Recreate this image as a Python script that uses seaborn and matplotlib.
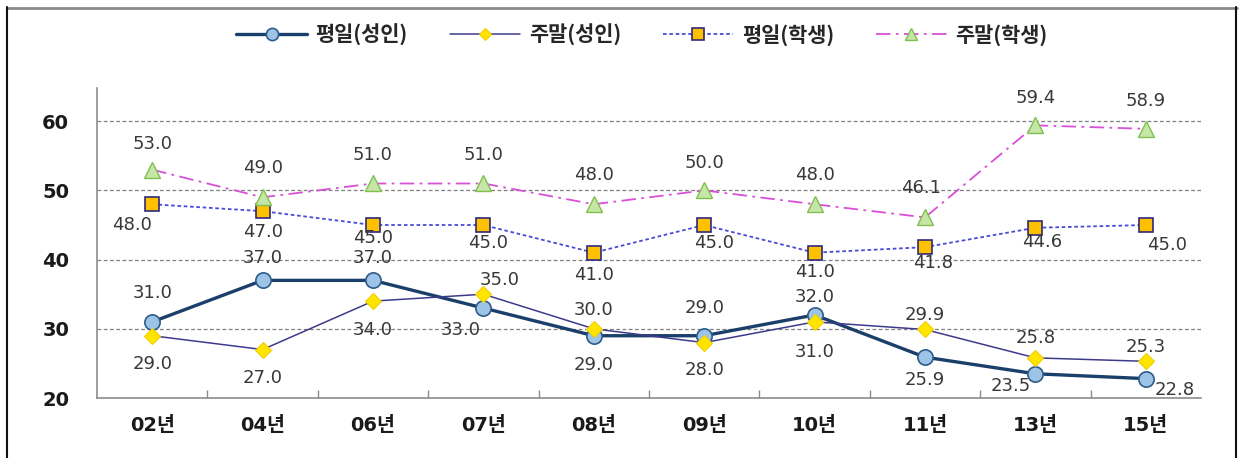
import matplotlib
matplotlib.use("Agg")
import matplotlib.pyplot as plt
import seaborn as sns
import pandas as pd
import numpy as np
from matplotlib.lines import Line2D

years = ["02년", "04년", "06년", "07년", "08년", "09년", "10년", "11년", "13년", "15년"]
weekday_adult = [31.0, 37.0, 37.0, 33.0, 29.0, 29.0, 32.0, 25.9, 23.5, 22.8]
weekend_adult = [29.0, 27.0, 34.0, 35.0, 30.0, 28.0, 31.0, 29.9, 25.8, 25.3]
weekday_student = [48.0, 47.0, 45.0, 45.0, 41.0, 45.0, 41.0, 41.8, 44.6, 45.0]
weekend_student = [53.0, 49.0, 51.0, 51.0, 48.0, 50.0, 48.0, 46.1, 59.4, 58.9]
series_names = ["평일(성인)", "주말(성인)", "평일(학생)", "주말(학생)"]

sns.set_theme(style="white")
plt.rcParams['font.family'] = ['Noto Sans CJK KR', 'DejaVu Sans']

fig = plt.figure(figsize=(12.39, 4.58), dpi=100)
ax = fig.add_axes([97/1239, 1-398/458, (1201-97)/1239, (398-88)/458])

df = pd.DataFrame({
    "year": years * 4,
    "value": weekday_adult + weekend_adult + weekday_student + weekend_student,
    "series": sum([[n] * len(years) for n in series_names], []),
})

styles = {
    "평일(성인)": dict(color="#1B3F6B", lw=2.4, ls="-", marker="o", ms=11, mfc="#9DC3E6", mec="#2E5C8A", mew=1.2),
    "주말(성인)": dict(color="#3D3A8C", lw=1.1, ls="-", marker="D", ms=8, mfc="#FFE400", mec="#F2CF00", mew=0.8),
    "평일(학생)": dict(color="#4A4AD8", lw=1.3, ls=(0, (2, 1.5)), marker="s", ms=10, mfc="#FFC000", mec="#2F2A7A", mew=1.2),
    "주말(학생)": dict(color="#D84FD8", lw=1.3, ls=(0, (8, 3, 1.5, 3)), marker="^", ms=11, mfc="#C6E6A8", mec="#7FBF4F", mew=1.0),
}

handles = []
for name in series_names:
    st = styles[name]
    sub = df[df["series"] == name]
    sns.lineplot(data=sub, x="year", y="value", ax=ax, color=st["color"], lw=st["lw"],
                 linestyle=st["ls"], marker=st["marker"], markersize=st["ms"],
                 markerfacecolor=st["mfc"], markeredgecolor=st["mec"], markeredgewidth=st["mew"],
                 sort=False, legend=False, zorder=3)
    handles.append(Line2D([], [], color=st["color"], lw=st["lw"], ls=st["ls"], marker=st["marker"],
                          ms=st["ms"] * 0.8, mfc=st["mfc"], mec=st["mec"], mew=st["mew"]))

# label offsets in pixels (dx, dy)
off_wa = [(0, 29), (0, 22), (0, 22), (-23, -22), (0, -29), (0, 28), (0, 18), (0, -23), (-25, -12), (29, -11)]
off_we = [(0, -28), (0, -28), (0, -29), (16, 14), (0, 19), (0, -27), (0, -30), (0, 14), (0, 20), (0, 14)]
off_sd = [(-20, -21), (0, -21), (0, -13), (5, -18), (0, -22), (10, -18), (0, -19), (8, -16), (7, -14), (21, -20)]
off_se = [(0, 26), (0, 29), (0, 28), (0, 28), (0, 29), (0, 27), (0, 29), (-4, 29), (0, 27), (0, 28)]

for vals, offs in [(weekday_adult, off_wa), (weekend_adult, off_we),
                   (weekday_student, off_sd), (weekend_student, off_se)]:
    for i, (v, (dx, dy)) in enumerate(zip(vals, offs)):
        ax.annotate(f"{v:.1f}", (i, v), xytext=(dx, dy), textcoords="offset pixels",
                    ha="center", va="center", fontsize=13, color="#383838",
                    family=['DejaVu Sans'], zorder=5)

ax.set_xlim(-0.5, len(years) - 0.5)
ax.set_ylim(20, 64.8)
ax.set_yticks([20, 30, 40, 50, 60])
ax.set_xticks(range(len(years)))
ax.set_xticklabels(years)
ax.set_xlabel("")
ax.set_ylabel("")
for y in [30, 40, 50, 60]:
    ax.axhline(y, color="#7F7F7F", lw=0.9, ls=(0, (3, 2)), zorder=1)

for s in ["top", "right"]:
    ax.spines[s].set_visible(False)
for s in ["left", "bottom"]:
    ax.spines[s].set_color("#8C8C8C")
    ax.spines[s].set_linewidth(1.2)

ax.tick_params(axis="x", length=0, pad=13, labelsize=14)
ax.tick_params(axis="y", length=0, pad=20, labelsize=14)
for lbl in ax.get_xticklabels() + ax.get_yticklabels():
    lbl.set_fontweight("bold")
    lbl.set_color("#1A1A1A")
    lbl.set_family(['DejaVu Sans', 'Noto Sans CJK KR'])
# minor ticks at category boundaries pointing inward
ax.set_xticks(np.arange(0.5, len(years) - 0.5, 1), minor=True)
ax.tick_params(axis="x", which="minor", direction="in", length=6, color="#8C8C8C", width=1.0, bottom=True)

leg = fig.legend(handles, series_names, loc="center", bbox_to_anchor=(0.518, 0.924), ncol=4,
                 frameon=False, handlelength=3.4, columnspacing=2.0, handletextpad=0.4,
                 prop={"weight": "bold", "size": 15})

# outer frame
fig.add_artist(Line2D([7/1239, 1237/1239], [1-7.5/458, 1-7.5/458], transform=fig.transFigure, color="#8A8A8A", lw=2))
fig.add_artist(Line2D([7/1239, 7/1239], [0, 1-7/458], transform=fig.transFigure, color="#111111", lw=1.5))
fig.add_artist(Line2D([1236/1239, 1236/1239], [0, 1-7/458], transform=fig.transFigure, color="#111111", lw=1.5))

fig.savefig("out.png", dpi=100)
